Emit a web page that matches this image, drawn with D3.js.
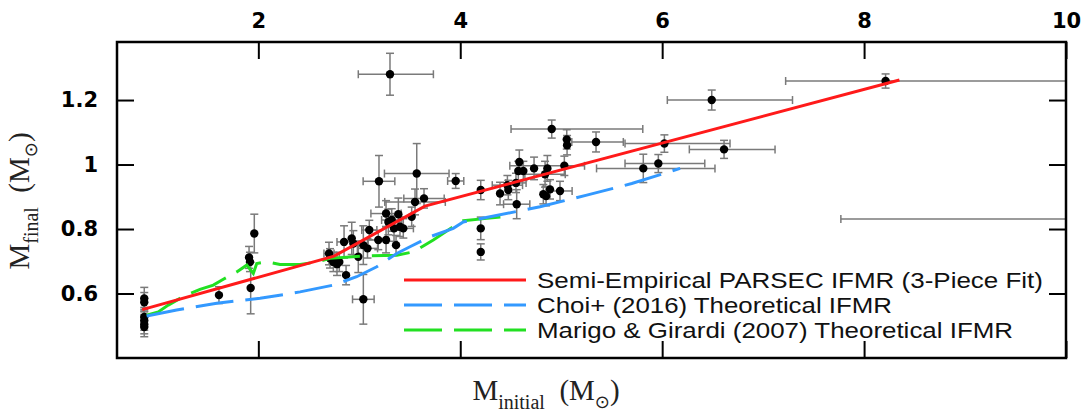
<!DOCTYPE html>
<html>
<head>
<meta charset="utf-8">
<script src="https://cdn.jsdelivr.net/npm/d3@7"></script>
<style>
  body { margin: 0; background: #fff; }
  svg { display: block; }
</style>
</head>
<body>
<div id="chart"></div>
<script>
// cluster data: initial mass, final mass, errors (initial lo/hi, final symmetric)
var mInit  = [0.87,0.87,0.87,0.87,0.87,0.87,1.61,1.908,1.917,1.924,1.96,
              2.70,2.71,2.743,2.779,2.802,2.869,2.849,2.925,2.941,2.99,3.04,3.081,3.099,3.04,3.195,3.188,3.265,3.265,3.288,3.321,3.344,3.364,3.387,3.403,3.436,3.519,3.552,3.569,3.641,3.304,
              3.955,4.203,4.203,4.203,4.394,4.467,4.476,4.552,4.559,4.575,4.585,4.625,4.731,4.823,4.85,4.84,4.863,4.889,4.988,5.031,5.055,5.058,4.906,5.345,5.813,5.962,6.022,6.491,6.613,8.213,10.6];
var mFinal = [0.585,0.573,0.527,0.516,0.505,0.496,0.595,0.712,0.698,0.617,0.786,
              0.724,0.709,0.698,0.691,0.698,0.657,0.760,0.771,0.755,0.714,0.750,0.740,0.797,0.582,0.948,0.766,0.766,0.848,0.822,0.828,0.802,0.750,0.846,0.807,0.802,0.838,0.884,0.972,0.895,1.280,
              0.949,0.921,0.802,0.729,0.910,0.936,0.921,0.943,0.877,0.980,1.008,0.980,0.988,0.908,0.902,0.970,0.988,0.923,0.918,0.996,1.078,1.060,1.110,1.070,0.988,1.003,1.065,1.200,1.047,1.259,0.831];
var errInitLo = [0,0,0,0,0,0,0,0,0,0,0,
              0.05,0,0,0,0,0,0.07,0,0,0,0,0.1,0.075,0.107,0.157,0.1,0,0.15,0,0.1,0,0,0,0,0.1,0,0.3,0.32,0.2,0.314,
              0.08,0,0,0,0,0.15,0,0.1,0.13,0,0,0,0,0,0,0.2,0,0,0.12,0.54,0,0,0.403,0.24,0.463,0.33,0.39,0.44,0.344,0.99,2.83];
var errInitHi = [0,0,0,0,0,0,0,0,0,0,0,
              0.05,0,0,0,0,0,0.07,0,0,0,0,0.1,0.075,0.107,0.157,0.1,0,0.15,0,0.1,0,0,0,0,0.1,0,0.3,0.32,0.2,0.43,
              0.08,0,0,0,0,0.15,0,0.1,0.13,0,0,0,0,0,0,0.2,0,0,0.12,0.2,0,0,0.902,0.27,0.71,0.46,0.65,0.8,0.505,3.0,0.5];
var errFinal = [0.034,0.03,0.03,0.03,0.03,0.03,0.026,0.034,0.03,0.08,0.06,
              0.035,0.03,0.03,0.035,0.03,0.03,0.05,0.05,0.04,0.049,0.06,0.03,0.03,0.077,0.08,0.03,0.04,0.04,0.04,0.035,0.04,0.03,0.05,0.03,0.03,0.03,0.04,0.093,0.03,0.065,
              0.023,0.03,0.035,0.025,0.035,0.03,0.03,0.03,0.045,0.03,0.037,0.03,0.035,0.03,0.03,0.04,0.04,0.03,0.03,0.03,0.03,0.03,0.028,0.031,0.044,0.028,0.027,0.031,0.028,0.022,0.02];

// IFMR curves
var fitX = [0.85, 2.75, 3.65, 8.35];
var fitY = [0.55, 0.716, 0.871, 1.262];
var choiX = [0.894,1.191,1.588,2.017,2.413,2.743,2.974,3.173,3.371,3.502,3.70,3.931,4.03,4.295,4.79,5.253,5.699,6.178];
var choiY = [0.530,0.549,0.570,0.585,0.605,0.626,0.652,0.683,0.724,0.745,0.776,0.802,0.822,0.838,0.869,0.905,0.941,0.988];
var marigoX = [0.894,1.009,1.108,1.224,1.323,1.422,1.554,1.653,1.786,1.885,1.95,1.984,2.083,2.215,2.413,2.578,2.71,3.04,3.371,3.535,3.733,3.931,4.03,4.262,4.493];
var marigoY = [0.533,0.543,0.564,0.585,0.600,0.613,0.626,0.644,0.667,0.688,0.662,0.693,0.698,0.690,0.690,0.698,0.709,0.716,0.719,0.729,0.766,0.807,0.826,0.833,0.840];

var xTicks = [2, 4, 6, 8, 10];
var yTicks = [0.6, 0.8, 1, 1.2];
var legendLabels = ["Semi-Empirical PARSEC IFMR (3-Piece Fit)",
                    "Choi+ (2016) Theoretical IFMR",
                    "Marigo & Girardi (2007) Theoretical IFMR"];

var W = 1089, H = 414;
var svg = d3.select("#chart").append("svg").attr("width", W).attr("height", H);

var x = d3.scaleLinear().domain([0.6, 10]).range([117, 1066]);
var y = d3.scaleLinear().domain([0.4, 1.38]).range([358, 42]);

svg.append("clipPath").attr("id", "clip")
  .append("rect").attr("x", 117).attr("y", 42).attr("width", 949).attr("height", 316);

var plot = svg.append("g").attr("clip-path", "url(#clip)");

var pts = mInit.map(function(d, i) {
  return { mi: d, mf: mFinal[i], lo: errInitLo[i], hi: errInitHi[i], e: errFinal[i] };
});

var errColor = "#7a7a7a", cap = 4;
var eb = plot.append("g").attr("stroke", errColor).attr("stroke-width", 1.5);
pts.forEach(function(d) {
  if (d.lo > 0 || d.hi > 0) {
    eb.append("line").attr("x1", x(d.mi - d.lo)).attr("x2", x(d.mi + d.hi))
      .attr("y1", y(d.mf)).attr("y2", y(d.mf));
    [d.mi - d.lo, d.mi + d.hi].forEach(function(v) {
      eb.append("line").attr("x1", x(v)).attr("x2", x(v))
        .attr("y1", y(d.mf) - cap).attr("y2", y(d.mf) + cap);
    });
  }
  eb.append("line").attr("x1", x(d.mi)).attr("x2", x(d.mi))
    .attr("y1", y(d.mf - d.e)).attr("y2", y(d.mf + d.e));
  [d.mf - d.e, d.mf + d.e].forEach(function(v) {
    eb.append("line").attr("x1", x(d.mi) - cap).attr("x2", x(d.mi) + cap)
      .attr("y1", y(v)).attr("y2", y(v));
  });
});

plot.append("g").selectAll("circle")
  .data(pts)
  .enter().append("circle")
  .attr("cx", function(d) { return x(d.mi); })
  .attr("cy", function(d) { return y(d.mf); })
  .attr("r", 4.2)
  .attr("fill", "#000");

var line = d3.line()
  .x(function(d) { return x(d[0]); })
  .y(function(d) { return y(d[1]); });

var curves = [
  { xs: marigoX, ys: marigoY, color: "#22e022", dash: "38,12" },
  { xs: choiX, ys: choiY, color: "#3399ff", dash: "38,12" },
  { xs: fitX, ys: fitY, color: "#ff1a1a", dash: null }
];
curves.forEach(function(c) {
  plot.append("path")
    .datum(c.xs.map(function(v, i) { return [v, c.ys[i]]; }))
    .attr("d", line)
    .attr("fill", "none")
    .attr("stroke", c.color)
    .attr("stroke-width", 3)
    .attr("stroke-dasharray", c.dash);
});

// axes: ticks inward on all four sides
var minorX = d3.range(1, 10.01, 0.5), minorY = d3.range(0.45, 1.38, 0.05);

function drawAxis(axisFn, scale, major, minor, pos, labels) {
  var g = svg.append("g").attr("transform", pos);
  g.call(axisFn(scale).tickValues(minor).tickSizeInner(-9).tickSizeOuter(0).tickFormat(""));
  g.call(axisFn(scale).tickValues(major).tickSizeInner(-17).tickSizeOuter(0)
    .tickPadding(labels ? 14 : 0)
    .tickFormat(labels ? d3.format("") : ""));
  g.selectAll(".domain").remove();
  g.selectAll(".tick line").attr("stroke", "#000").attr("stroke-width", 2);
  g.selectAll(".tick text")
    .attr("font-family", "'DejaVu Sans', sans-serif")
    .attr("font-weight", "bold")
    .attr("font-size", 21)
    .attr("fill", "#000");
  return g;
}

drawAxis(d3.axisTop, x, xTicks, minorX, "translate(0,42)", true);
drawAxis(d3.axisBottom, x, xTicks, minorX, "translate(0,358)", false);
var yl = drawAxis(d3.axisLeft, y, yTicks, minorY, "translate(117,0)", true);
drawAxis(d3.axisRight, y, yTicks, minorY, "translate(1066,0)", false);
yl.selectAll(".tick text").attr("x", -19);

svg.append("rect")
  .attr("x", 117).attr("y", 42).attr("width", 949).attr("height", 316)
  .attr("fill", "none").attr("stroke", "#000").attr("stroke-width", 2.5);

// legend (text is wide in the original, so stretch it to the same length)
var leg = svg.append("g");
var textLen = [506, 355, 476];
[curves[2], curves[1], curves[0]].forEach(function(c, i) {
  var ly = 280 + i * 25;
  leg.append("line").attr("x1", 404).attr("x2", 526).attr("y1", ly).attr("y2", ly)
    .attr("stroke", c.color).attr("stroke-width", 3).attr("stroke-dasharray", c.dash);
  leg.append("text").attr("x", 537).attr("y", ly + 8)
    .attr("font-family", "'Liberation Sans', Arial, sans-serif")
    .attr("font-size", 22)
    .attr("textLength", textLen[i])
    .attr("lengthAdjust", "spacingAndGlyphs")
    .attr("fill", "#111")
    .text(legendLabels[i]);
});

// axis titles
var serif = "'Liberation Serif', 'DejaVu Serif', serif";
var xt = svg.append("text").attr("x", 546).attr("y", 400)
  .attr("text-anchor", "middle").attr("font-family", serif).attr("font-size", 29).attr("fill", "#222");
xt.append("tspan").text("M");
xt.append("tspan").attr("font-size", 20).attr("dy", 9).text("initial");
xt.append("tspan").attr("dy", -9).text("\u2002(M");
xt.append("tspan").attr("font-size", 18).attr("dy", 8).attr("font-family", "'DejaVu Sans'").text("\u2299");
xt.append("tspan").attr("dy", -8).text(")");

var yt = svg.append("text").attr("transform", "translate(29,201) rotate(-90)")
  .attr("text-anchor", "middle").attr("font-family", serif).attr("font-size", 29).attr("fill", "#222");
yt.append("tspan").text("M");
yt.append("tspan").attr("font-size", 20).attr("dy", 9).text("final");
yt.append("tspan").attr("dy", -9).text("\u2002(M");
yt.append("tspan").attr("font-size", 18).attr("dy", 8).attr("font-family", "'DejaVu Sans'").text("\u2299");
yt.append("tspan").attr("dy", -8).text(")");
</script>
</body>
</html>
